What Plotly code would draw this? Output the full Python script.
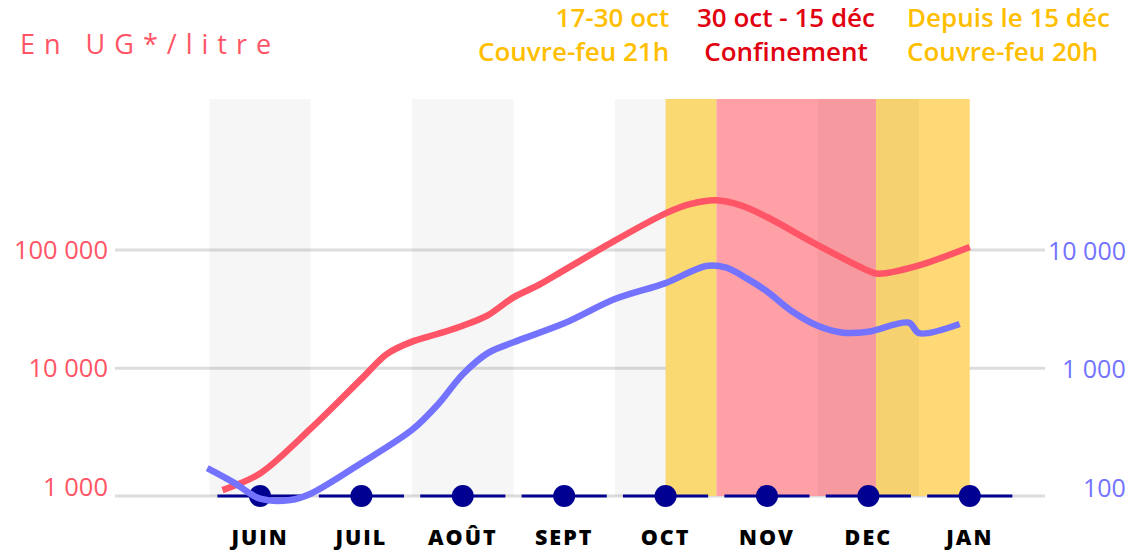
import math
import plotly.graph_objects as go

# ---------------- data ----------------
months = ["JUIN", "JUIL", "AOÛT", "SEPT", "OCT", "NOV", "DEC", "JAN"]
month_pos = list(range(len(months)))

# red series (left axis, UG/litre)
red_x = [-0.37, 0, 0.5, 1, 1.25, 1.5, 1.75, 2, 2.25, 2.5, 2.75, 3, 3.5, 4,
         4.25, 4.5, 4.75, 5, 5.5, 6, 6.1, 6.5, 7]
red_y = [933, 1290, 3090, 8130, 13200, 16800, 19500, 22900, 28200, 39800, 50700,
         67600, 120000, 204000, 245000, 263000, 237000, 190000, 110000, 66800,
         63000, 74100, 106000]

# blue series (right axis)
blue_x = [-0.52, -0.25, 0, 0.3, 0.5, 1, 1.5, 1.75, 2, 2.25, 2.5, 3, 3.5, 4,
          4.4, 4.6, 4.8, 5, 5.25, 5.5, 5.75, 6, 6.4, 6.5, 6.9]
blue_y = [143, 107, 79, 77, 87, 158, 302, 490, 891, 1350, 1660, 2400, 3850, 5250,
          7330, 7080, 5750, 4470, 3020, 2290, 2000, 2040, 2430, 1980, 2370]

left_ticks = [1000, 10000, 100000]
right_ticks = [100, 1000, 10000]
grid_vals = [10000, 100000]

grey_months = [0, 2, 4, 6]
period_start = [4.0, 4.5, 6.075]
period_end = [4.5, 6.075, 7.0]
period_labels = ["17-30 oct<br>Couvre-feu 21h",
                 "30 oct - 15 déc<br>Confinement",
                 "Depuis le 15 déc<br>Couvre-feu 20h"]

# ---------------- styles ----------------
RED = "#FF5566"
BLUE = "#7373FF"
NAVY = "#000091"
GRID = "#DDDDDD"
FONT = "Open Sans"
period_colors = ["#FAD872", "#FFA0A6", "#FED975"]
period_text_colors = ["#FFBF00", "#E1000F", "#FFBF00"]

Y_RANGE = [2.7768, 6.2764]
Y2_RANGE = [Y_RANGE[0] - 1, Y_RANGE[1] - 1]
X_RANGE = [-1.43, 7.742]
BASE_LOG = 2.9206  # level of the timeline baseline


def fmt(v):
    return f"{v:,}".replace(",", " ")


fig = go.Figure()

fig.add_trace(go.Scatter(x=blue_x, y=blue_y, yaxis="y2", mode="lines",
                         line=dict(color=BLUE, width=6.5, shape="spline", smoothing=0.9),
                         hoverinfo="skip", showlegend=False))
fig.add_trace(go.Scatter(x=red_x, y=red_y, mode="lines",
                         line=dict(color=RED, width=6.5, shape="spline", smoothing=0.9),
                         hoverinfo="skip", showlegend=False))

# timeline segments and dots
seg_half = 0.42
base_val = 10 ** BASE_LOG
top_val = 10 ** Y_RANGE[1]
seg_x, seg_y = [], []
for p in month_pos:
    seg_x += [p - seg_half, p + seg_half, None]
    seg_y += [base_val, base_val, None]
fig.add_trace(go.Scatter(x=seg_x, y=seg_y, mode="lines",
                         line=dict(color=NAVY, width=3),
                         hoverinfo="skip", showlegend=False, cliponaxis=False))
fig.add_trace(go.Scatter(x=month_pos, y=[base_val] * len(month_pos), mode="markers",
                         marker=dict(color=NAVY, size=22),
                         hoverinfo="skip", showlegend=False, cliponaxis=False))

shapes = []
# period bands (confinement + recent curfew)
for s, e, c in list(zip(period_start, period_end, period_colors))[1:]:
    shapes.append(dict(type="rect", xref="x", yref="y", x0=s, x1=e, y0=base_val, y1=top_val,
                       fillcolor=c, line=dict(width=0), layer="below"))
# alternating grey month bands
for m in grey_months:
    shapes.append(dict(type="rect", xref="x", yref="y", x0=m - 0.5, x1=m + 0.5,
                       y0=base_val, y1=top_val, fillcolor="rgba(0,0,0,0.035)",
                       line=dict(width=0), layer="below"))
# first curfew band
s, e, c = period_start[0], period_end[0], period_colors[0]
shapes.append(dict(type="rect", xref="x", yref="y", x0=s, x1=e, y0=base_val, y1=top_val,
                   fillcolor=c, line=dict(width=0), layer="below"))
# grid lines and baseline
for v in grid_vals:
    shapes.append(dict(type="line", xref="paper", yref="y", x0=0, x1=1, y0=v, y1=v,
                       line=dict(color=GRID, width=3), layer="below"))
shapes.append(dict(type="line", xref="paper", yref="y", x0=0, x1=1,
                   y0=base_val, y1=base_val, line=dict(color=GRID, width=3), layer="below"))

annotations = []
# right axis labels
for v in right_ticks:
    annotations.append(dict(xref="paper", yref="y2", x=1.0892, y=math.log10(v),
                            text=fmt(v), showarrow=False, xanchor="right", yanchor="middle",
                            font=dict(family=FONT, size=25, color=BLUE, weight=500)))
# unit title
annotations.append(dict(xref="paper", yref="paper", x=-0.1043, y=1.133,
                        text="En UG*/litre", showarrow=False, xanchor="left",
                        yanchor="middle", align="left",
                        font=dict(family=FONT, size=27, color=RED, weight=400)))
# period labels
period_ax = [0.5978, 0.7215, 0.8495]
period_anchor = ["right", "center", "left"]
for txt, col, ax, anc in zip(period_labels, period_text_colors, period_ax, period_anchor):
    annotations.append(dict(xref="paper", yref="paper", x=ax, y=1.158, text=txt,
                            showarrow=False, xanchor=anc, yanchor="middle", align=anc,
                            font=dict(family=FONT, size=26, color=col, weight=600)))

fig.update_layout(
    width=1135, height=552,
    margin=dict(l=115, r=90, t=99, b=39, autoexpand=False),
    paper_bgcolor="white", plot_bgcolor="white",
    shapes=shapes, annotations=annotations,
    xaxis=dict(range=X_RANGE, tickvals=month_pos, ticktext=months, automargin=False,
               showgrid=False, zeroline=False, showline=False, ticks="",
               ticklabelstandoff=9,
               tickfont=dict(family=FONT, size=21.5, color="black", weight=800)),
    yaxis=dict(type="log", range=Y_RANGE, tickvals=left_ticks, automargin=False,
               ticktext=[fmt(v) for v in left_ticks],
               showgrid=False, zeroline=False, showline=False, ticks="",
               ticklabelstandoff=6,
               tickfont=dict(family=FONT, size=25.5, color=RED, weight=500)),
    yaxis2=dict(type="log", range=Y2_RANGE, overlaying="y", side="right", automargin=False,
                showgrid=False, zeroline=False, showline=False, showticklabels=False),
    showlegend=False,
)

post = """
(function(){
  document.body.style.margin = '0';
  document.querySelectorAll('.annotation-text').forEach(function(t){
    if (t.textContent === 'En UG*/litre') { t.style.letterSpacing = '9px'; }
  });
  document.querySelectorAll('.xtick text').forEach(function(t){ t.style.letterSpacing = '2px'; });
})();
"""
fig.write_html("out.html", post_script=post, config={"displayModeBar": False, "staticPlot": True})
